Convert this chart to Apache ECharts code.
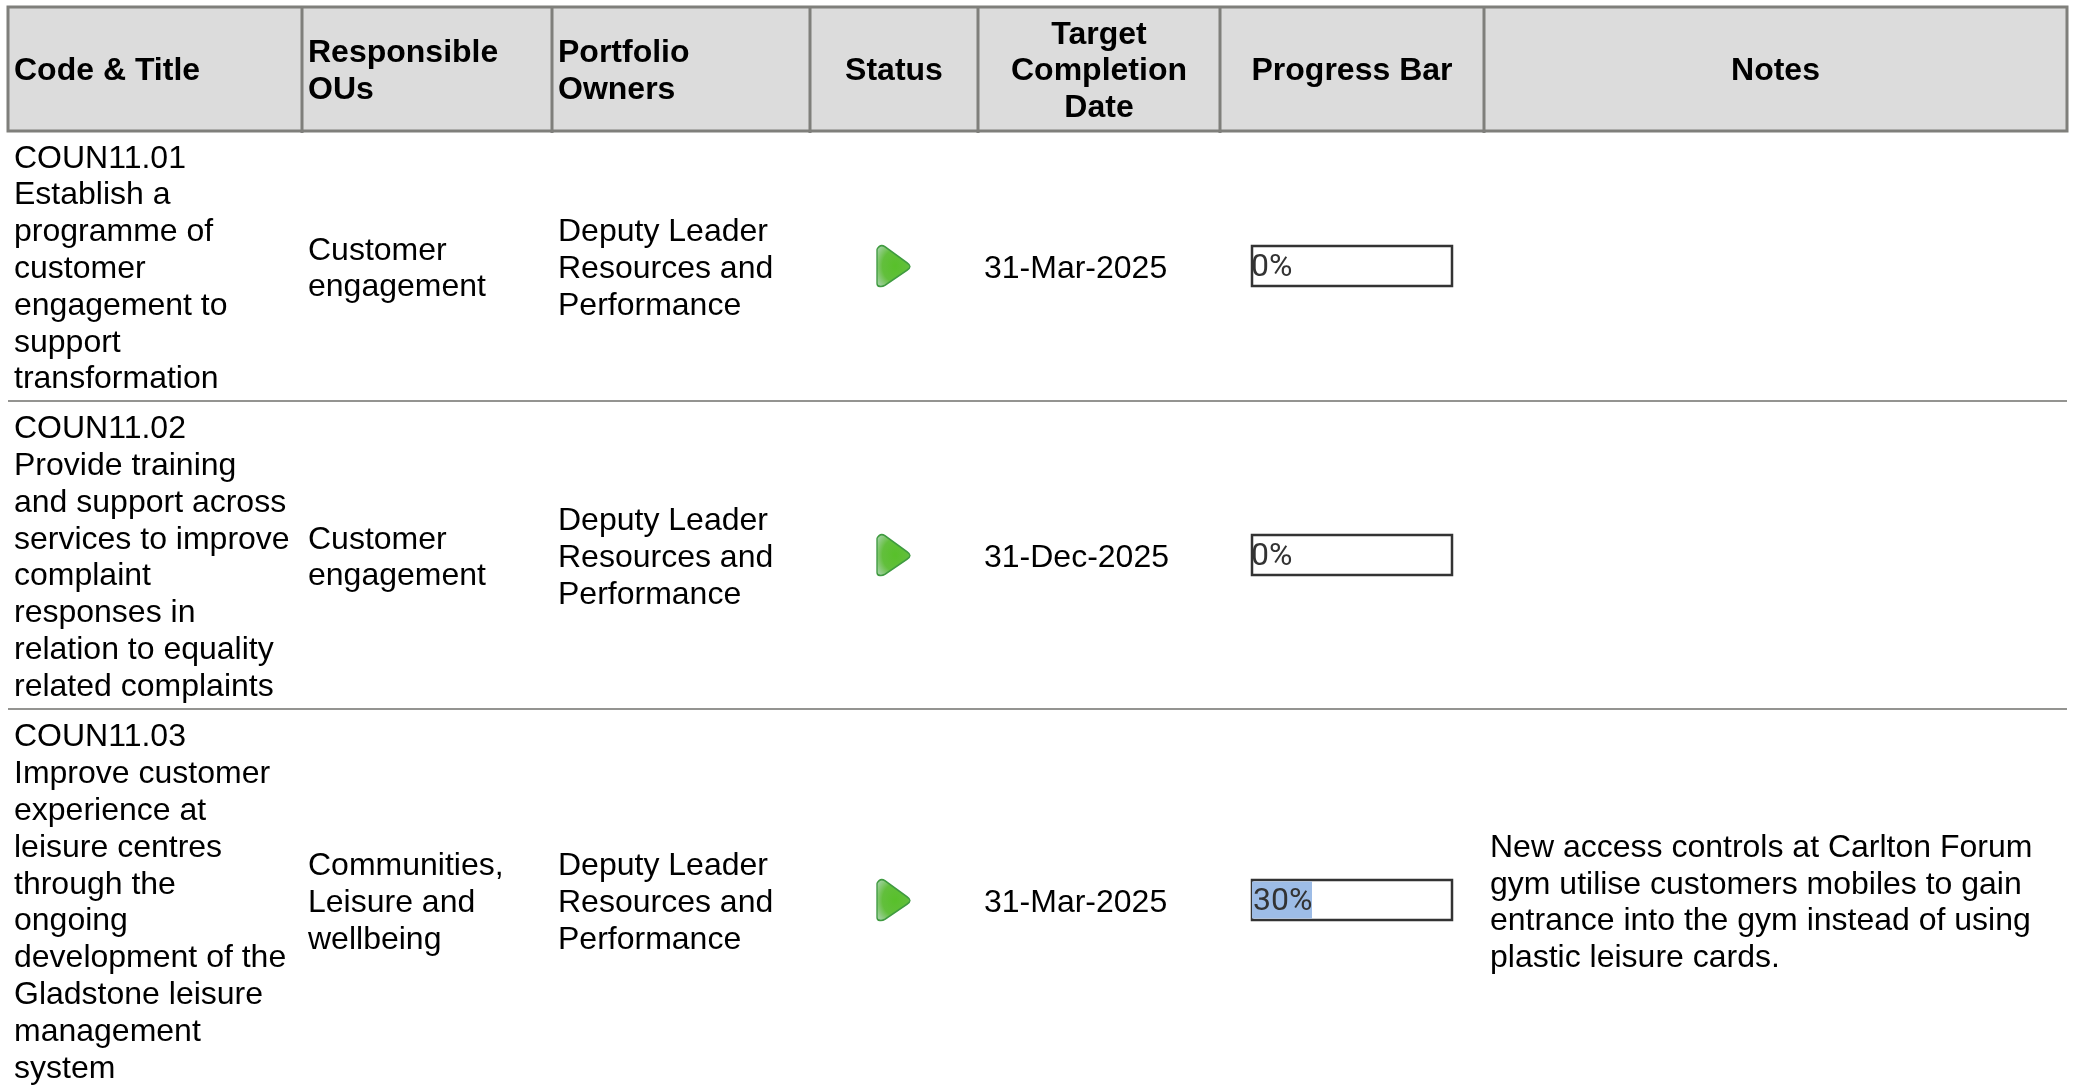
<!DOCTYPE html>
<html>
<head>
<meta charset="utf-8">
<title>Actions table</title>
<style>
  html, body { margin: 0; padding: 0; background: #fff; }
  #chart { width: 2075px; height: 1088px; }
</style>
<script src="https://cdn.jsdelivr.net/npm/echarts@6/dist/echarts.min.js"></script>
</head>
<body>
<div id="chart"></div>
<script>
const headers = [
  ['Code & Title'],
  ['Responsible', 'OUs'],
  ['Portfolio', 'Owners'],
  ['Status'],
  ['Target', 'Completion', 'Date'],
  ['Progress Bar'],
  ['Notes']
]
const codeTitles = [
  ['COUN11.01', 'Establish a', 'programme of', 'customer', 'engagement to', 'support', 'transformation'],
  ['COUN11.02', 'Provide training', 'and support across', 'services to improve', 'complaint', 'responses in', 'relation to equality', 'related complaints'],
  ['COUN11.03', 'Improve customer', 'experience at', 'leisure centres', 'through the', 'ongoing', 'development of the', 'Gladstone leisure', 'management', 'system']
]
const responsibleOUs = [
  ['Customer', 'engagement'],
  ['Customer', 'engagement'],
  ['Communities,', 'Leisure and', 'wellbeing']
]
const portfolioOwners = [
  ['Deputy Leader', 'Resources and', 'Performance'],
  ['Deputy Leader', 'Resources and', 'Performance'],
  ['Deputy Leader', 'Resources and', 'Performance']
]
const targetDates = ['31-Mar-2025', '31-Dec-2025', '31-Mar-2025']
const progressValues = [0, 0, 30]
const notes = [
  [],
  [],
  ['New access controls at Carlton Forum', 'gym utilise customers mobiles to gain', 'entrance into the gym instead of using', 'plastic leisure cards.']
]

// layout of the table, in axis units (same as px here)
const colEdges = [8, 302, 552, 810, 978, 1220, 1484, 2067]
const rowEdges = [7, 131, 401, 709, 1091]
const textNudge = [2.5, 3.2, 3.2, 3.2]
const FONT = '"Liberation Sans", Arial, sans-serif'
const LINE_H = 36.8
const rowMid = r => (rowEdges[r + 1] + rowEdges[r + 2]) / 2

const bodyCols = [codeTitles, responsibleOUs, portfolioOwners, null, targetDates.map(d => [d]), null, notes]
const centered = [false, false, false, true, true, true, true]

const cells = []
headers.forEach((h, c) => cells.push({ value: [c, 0], lines: h, bold: true, center: centered[c] }))
bodyCols.forEach((col, c) => {
  if (!col) return
  col.forEach((lines, r) => {
    if (lines.length) cells.push({ value: [c, r + 1], lines, bold: false, center: false })
  })
})

const renderCell = (params, api) => {
  const cell = cells[params.dataIndex]
  const c = api.value(0)
  const r = api.value(1)
  const x0 = colEdges[c]
  const x1 = colEdges[c + 1]
  const tx = cell.center ? (x0 + x1) / 2 : x0 + 6
  const ty = (rowEdges[r] + rowEdges[r + 1]) / 2 + textNudge[r]
  const p = api.coord([tx, ty])
  return {
    type: 'text',
    style: {
      x: p[0],
      y: p[1],
      text: cell.lines.join('\n'),
      font: (cell.bold ? 'bold ' : '') + '32px ' + FONT,
      lineHeight: LINE_H,
      fill: '#000',
      align: cell.center ? 'center' : 'left',
      verticalAlign: 'middle'
    }
  }
}

const RULE = '#7f7f7b'
const renderTable = (params, api) => {
  const kids = []
  const tl = api.coord([colEdges[0], rowEdges[0]])
  const br = api.coord([colEdges[7], rowEdges[1]])
  kids.push({
    type: 'rect',
    shape: { x: tl[0], y: tl[1], width: br[0] - tl[0], height: br[1] - tl[1] },
    style: { fill: '#dcdcdc', stroke: RULE, lineWidth: 3 }
  })
  colEdges.slice(1, 7).forEach(x => {
    const a = api.coord([x, rowEdges[0]])
    const b = api.coord([x, rowEdges[1] + 2])
    kids.push({ type: 'line', shape: { x1: a[0], y1: a[1], x2: b[0], y2: b[1] }, style: { stroke: RULE, lineWidth: 3 } })
  })
  rowEdges.slice(2, 4).forEach(y => {
    const a = api.coord([colEdges[0], y])
    const b = api.coord([colEdges[7], y])
    kids.push({ type: 'line', shape: { x1: a[0], y1: a[1], x2: b[0], y2: b[1] }, style: { stroke: '#70706c', lineWidth: 1.5 } })
  })
  return { type: 'group', children: kids }
}

const BAR_LEFT = 1252
const BAR_W = 200
const BAR_H = 40

const grids = [{ left: 0, top: 0, width: 2075, height: 1088 }]
const xAxes = [{ type: 'value', min: 0, max: 2075, show: false }]
const yAxes = [{ type: 'value', min: 0, max: 1088, inverse: true, show: false }]
const barSeries = progressValues.map((v, i) => {
  grids.push({
    left: BAR_LEFT,
    top: rowMid(i) - BAR_H / 2,
    width: BAR_W,
    height: BAR_H,
    show: true,
    backgroundColor: '#fff',
    borderColor: '#333',
    borderWidth: 2.5
  })
  xAxes.push({ type: 'value', gridIndex: i + 1, min: 0, max: 100, show: false })
  yAxes.push({ type: 'category', gridIndex: i + 1, data: [targetDates[i]], show: false })
  return {
    type: 'bar',
    xAxisIndex: i + 1,
    yAxisIndex: i + 1,
    data: [v],
    barWidth: BAR_H - 3,
    itemStyle: { color: '#9dbce6' },
    silent: true,
    label: {
      show: true,
      position: 'insideLeft',
      distance: v ? 1 : -1,
      offset: [0, 2],
      formatter: '{c}%',
      fontFamily: 'Roboto',
      fontWeight: 400,
      fontSize: 32,
      color: '#333'
    }
  }
})

const statusPoints = codeTitles.map((_, i) => [(colEdges[3] + colEdges[4]) / 2 - 0.5, rowMid(i)])

const option = {
  animation: false,
  backgroundColor: '#fff',
  grid: grids,
  xAxis: xAxes,
  yAxis: yAxes,
  series: [
    {
      type: 'custom',
      data: [0],
      renderItem: renderTable,
      silent: true,
      z: 1
    },
    {
      type: 'custom',
      data: cells,
      encode: { x: 0, y: 1 },
      renderItem: renderCell,
      silent: true,
      clip: false,
      z: 2
    },
    {
      type: 'scatter',
      data: statusPoints,
      symbol: 'path://M3,1 C5,-1 7,-0.5 9,1 L31,18 C35,21 35,23 31,26 L9,42 C6,44 1,44 1,40 L1,4 C1,3 2,2 3,1 Z',
      symbolSize: [33, 41],
      silent: true,
      itemStyle: {
        color: {
          type: 'radial',
          x: 0.55, y: 0.5, r: 0.62,
          colorStops: [
            { offset: 0, color: '#58c02a' },
            { offset: 0.6, color: '#62bf3c' },
            { offset: 1, color: '#9ccf98' }
          ]
        },
        borderColor: '#3f9a40',
        borderWidth: 1.5,
        opacity: 1
      },
      z: 3
    },
    ...barSeries
  ]
}

const chart = echarts.init(document.getElementById('chart'))
chart.setOption(option)
window.addEventListener('resize', () => chart.resize())
</script>
</body>
</html>
